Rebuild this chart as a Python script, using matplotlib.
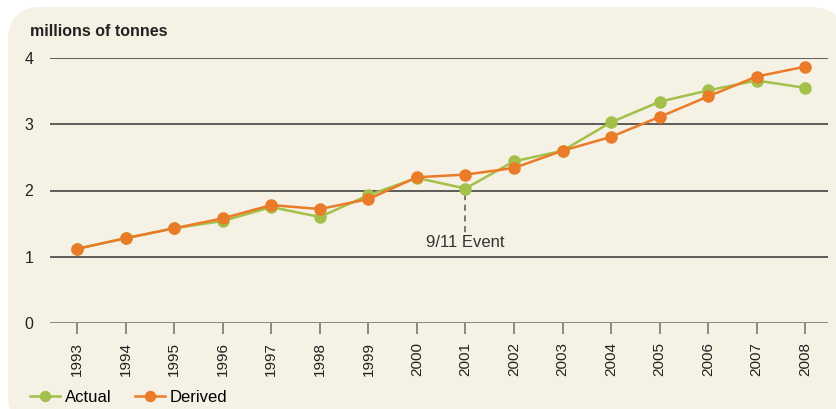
import numpy as np
import matplotlib.pyplot as plt
from matplotlib.patches import FancyBboxPatch

plt.rcParams['font.family'] = ['Liberation Sans', 'DejaVu Sans']

years = list(range(1993, 2009))
actual = [1.12, 1.28, 1.43, 1.54, 1.75, 1.60, 1.93, 2.19, 2.03,
          2.44, 2.60, 3.03, 3.34, 3.51, 3.66, 3.55]
derived = [1.12, 1.28, 1.43, 1.58, 1.78, 1.72, 1.87, 2.20, 2.24,
           2.34, 2.60, 2.81, 3.11, 3.42, 3.72, 3.87]

green = '#a2c04a'
orange = '#ea7b28'
bg = '#f5f1e4'

fig = plt.figure(figsize=(8.36, 4.09), dpi=100)
fig.patch.set_facecolor('white')
panel = FancyBboxPatch((8 / 836, -0.05), 1.0, 1.05 - 7 / 409,
                       boxstyle='round,pad=0,rounding_size=0.04',
                       transform=fig.transFigure, facecolor=bg,
                       edgecolor='none', zorder=-10,
                       mutation_aspect=836 / 409)
fig.patches.append(panel)

ax = fig.add_axes([50 / 836, 1 - 323 / 409, (828 - 50) / 836, (323 - 58) / 409])
ax.set_facecolor('none')

for y in [1, 2, 3, 4]:
    ax.axhline(y, color='#333333', lw=1.1, zorder=1)
ax.axhline(0, color='#808080', lw=1.3, zorder=1)

ax.plot(years, actual, color=green, lw=1.8, marker='o', ms=8,
        label='Actual', zorder=3, clip_on=False)
ax.plot(years, derived, color=orange, lw=1.8, marker='o', ms=8,
        label='Derived', zorder=4, clip_on=False)

# 9/11 annotation
ax.plot([2001, 2001], [actual[8] - 0.08, 1.3], color='#555555', lw=1.1,
        ls=(0, (4, 3)), zorder=2)
ax.text(2001, 1.21, '9/11 Event', ha='center', va='center', fontsize=12,
        color='#333333')

ax.set_xlim(1992.44, 2008.47)
ax.set_ylim(0, 4)
ax.set_yticks([0, 1, 2, 3, 4])
ax.set_xticks(years)
ax.set_xticklabels([str(y) for y in years], rotation=90, fontsize=11,
                   color='#222222')
ax.tick_params(axis='x', length=8, width=1.2, color='#777777', pad=6)
ax.tick_params(axis='y', length=0, pad=12, labelsize=11.5, labelcolor='#222222')
for s in ax.spines.values():
    s.set_visible(False)

fig.text(30 / 836, 1 - 32 / 409, 'millions of tonnes', fontsize=11.5,
         fontweight='bold', color='#222222', va='center')

leg = fig.legend(loc='center left', bbox_to_anchor=(30 / 836, 1 - 397 / 409),
                 ncol=2, frameon=False, fontsize=12, handlelength=1.8,
                 handletextpad=0.3, columnspacing=1.4, markerscale=0.9,
                 borderaxespad=0, borderpad=0)

plt.savefig('out.png', dpi=100, facecolor=fig.get_facecolor())
